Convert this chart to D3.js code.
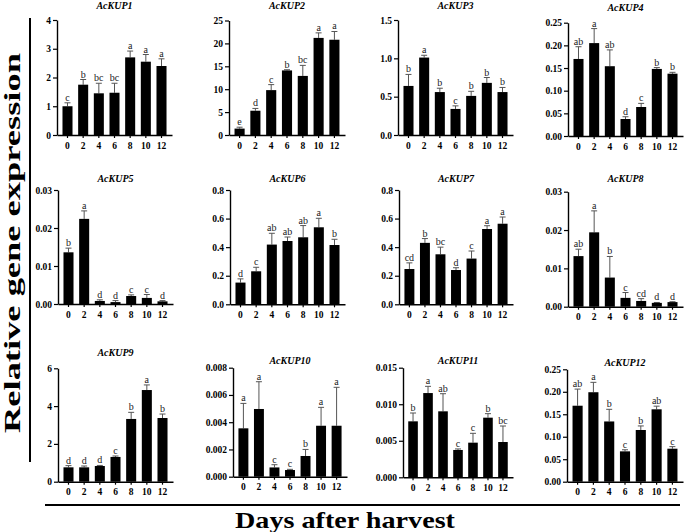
<!DOCTYPE html>
<html><head><meta charset="utf-8">
<script src="https://cdn.jsdelivr.net/npm/d3@7"></script>
<style>body{margin:0;background:#fff}svg{display:block}</style>
</head><body>
<svg id="c" width="685" height="532"></svg>
<script>
const genes = ["AcKUP1","AcKUP2","AcKUP3","AcKUP4","AcKUP5","AcKUP6","AcKUP7","AcKUP8","AcKUP9","AcKUP10","AcKUP11","AcKUP12"];
const days = ["0","2","4","6","8","10","12"];
const means = [
  [1.0,1.75,1.45,1.47,2.7,2.55,2.4],
  [1.4,5.3,9.8,14.1,12.9,21.2,20.8],
  [0.64,1.01,0.56,0.34,0.51,0.68,0.56],
  [0.17,0.205,0.154,0.0375,0.064,0.148,0.1375],
  [0.0136,0.0224,0.0008,0.0005,0.0021,0.0016,0.0007],
  [0.152,0.231,0.418,0.443,0.469,0.539,0.415],
  [0.247,0.43,0.35,0.24,0.32,0.527,0.564],
  [0.0132,0.0194,0.0076,0.0023,0.0015,0.001,0.0012],
  [0.76,0.76,0.83,1.31,3.32,4.85,3.37],
  [0.00355,0.00497,0.00068,0.00049,0.00152,0.00374,0.00374],
  [0.00766,0.01153,0.00903,0.00374,0.00474,0.00816,0.00483],
  [0.169,0.199,0.134,0.0675,0.115,0.161,0.0734]
];
const sds = [
  [0.12,0.18,0.35,0.33,0.22,0.25,0.25],
  [0.3,0.5,1.2,0.15,2.3,1.1,1.8],
  [0.15,0.03,0.05,0.04,0.06,0.07,0.06],
  [0.027,0.032,0.036,0.005,0.008,0.003,0.003],
  [0.0011,0.0021,0.0003,0.0004,0.0003,0.0009,0.0002],
  [0.026,0.028,0.079,0.028,0.082,0.063,0.04],
  [0.043,0.03,0.05,0.016,0.053,0.023,0.047],
  [0.0018,0.0056,0.0055,0.0014,0.0006,0.0001,0.0001],
  [0.09,0.07,0.03,0.05,0.35,0.27,0.21],
  [0.00183,0.002,0.0002,0.00005,0.00048,0.00135,0.00282],
  [0.00114,0.00092,0.00241,0.00014,0.00128,0.00055,0.00219],
  [0.037,0.022,0.027,0.0035,0.009,0.007,0.0046]
];
const letters = [
  ["c","b","bc","bc","a","a","a"],
  ["e","d","c","b","bc","a","a"],
  ["b","a","b","c","b","b","b"],
  ["ab","a","ab","d","c","b","b"],
  ["b","a","d","d","c","c","d"],
  ["d","c","ab","ab","ab","a","b"],
  ["cd","b","bc","d","c","a","a"],
  ["ab","a","b","c","cd","d","d"],
  ["d","d","d","c","b","a","b"],
  ["a","a","c","c","b","a","a"],
  ["b","a","ab","c","c","b","bc"],
  ["ab","a","b","c","b","ab","c"]
];
const yTicks = [
  ["0","1","2","3","4"],
  ["0","5","10","15","20","25"],
  ["0.0","0.5","1.0","1.5"],
  ["0.00","0.05","0.10","0.15","0.20","0.25"],
  ["0.00","0.01","0.02","0.03"],
  ["0.0","0.2","0.4","0.6","0.8"],
  ["0.0","0.2","0.4","0.6","0.8"],
  ["0.00","0.01","0.02","0.03"],
  ["0","2","4","6"],
  ["0.000","0.002","0.004","0.006","0.008"],
  ["0.000","0.005","0.010","0.015"],
  ["0.00","0.05","0.10","0.15","0.20","0.25"]
];
const yLabel = "Relative gene expression";
const xLabel = "Days after harvest";

// layout: [axis x, axis end x, top y, baseline y, title baseline y]
const boxes = [
  [57,172,20,135,9],[229,345,20.5,135,9],[398,513,20,135,9],[568,683,22.7,136,11],
  [58,173,190,304,182],[230,345,190,304.3,182],[399,513,190,304.3,182],[568,683,191.7,306.7,182],
  [58,173,368.3,481.7,356],[233,347,367.7,476.7,364],[403,513,367.7,477.3,364],[567,683,369.3,481.7,366]
];

const svg = d3.select("#c");
const serif = "'Liberation Serif','Times New Roman',Times,serif";

genes.forEach((g,i)=>{
  const [x0,x1,top,base,ty] = boxes[i];
  const ticks = yTicks[i].map(Number);
  const ymax = d3.max(ticks);
  const x = d3.scaleBand().domain(days).range([x0,x1]).paddingInner(0.36).paddingOuter(0.35);
  const y = d3.scaleLinear().domain([0,ymax]).range([base,top]);
  const gp = svg.append("g");
  const data = days.map((d,k)=>({d, m:means[i][k], s:sds[i][k], l:letters[i][k]}));

  const eb = gp.selectAll(".eb").data(data).join("g");
  eb.append("line").attr("x1",d=>x(d.d)+x.bandwidth()/2).attr("x2",d=>x(d.d)+x.bandwidth()/2)
    .attr("y1",d=>y(d.m)).attr("y2",d=>y(d.m+d.s)).attr("stroke","#555").attr("stroke-width",1);
  eb.append("line").attr("x1",d=>x(d.d)+x.bandwidth()/2-3).attr("x2",d=>x(d.d)+x.bandwidth()/2+3)
    .attr("y1",d=>y(d.m+d.s)).attr("y2",d=>y(d.m+d.s)).attr("stroke","#555").attr("stroke-width",1);

  gp.selectAll("rect").data(data).join("rect")
    .attr("x",d=>x(d.d)).attr("width",x.bandwidth())
    .attr("y",d=>y(d.m)).attr("height",d=>base-y(d.m)).attr("fill","#000");

  gp.selectAll(".lt").data(data).join("text")
    .attr("x",d=>x(d.d)+x.bandwidth()/2).attr("y",d=>y(d.m+d.s)-2)
    .attr("text-anchor","middle").attr("font-family",serif).attr("font-size",10).attr("fill","#222")
    .text(d=>d.l);

  const ya = d3.axisLeft(y).tickValues(ticks).tickFormat((d,k)=>yTicks[i][k]).tickSize(4).tickSizeOuter(0).tickPadding(2);
  const yg = gp.append("g").attr("transform",`translate(${x0},0)`).call(ya);
  const xa = d3.axisBottom(x).tickSize(3).tickSizeOuter(0).tickPadding(4);
  const xg = gp.append("g").attr("transform",`translate(0,${base})`).call(xa);
  [yg,xg].forEach(a=>{
    a.select(".domain").attr("stroke","#000").attr("stroke-width",1.4);
    a.selectAll(".tick line").attr("stroke","#000").attr("stroke-width",1.2);
    a.selectAll("text").attr("font-family",serif).attr("font-size",9.5).attr("font-weight","bold").attr("fill","#000");
  });

  gp.append("text").attr("x",(x0+x1)/2).attr("y",ty).attr("text-anchor","middle")
    .attr("font-family",serif).attr("font-size",10).attr("font-weight","bold").attr("font-style","italic")
    .text(g);
});

svg.append("line").attr("x1",30).attr("x2",30).attr("y1",18).attr("y2",462).attr("stroke","#000").attr("stroke-width",2);
svg.append("line").attr("x1",45).attr("x2",680).attr("y1",505).attr("y2",505).attr("stroke","#000").attr("stroke-width",2);
svg.append("text").attr("transform","translate(20,243) rotate(-90)").attr("text-anchor","middle")
  .attr("font-family",serif).attr("font-size",23).attr("font-weight","bold")
  .attr("textLength",380).attr("lengthAdjust","spacingAndGlyphs").text(yLabel);
svg.append("text").attr("x",345).attr("y",528).attr("text-anchor","middle")
  .attr("font-family",serif).attr("font-size",23).attr("font-weight","bold")
  .attr("textLength",220).attr("lengthAdjust","spacingAndGlyphs").text(xLabel);
</script>
</body></html>
